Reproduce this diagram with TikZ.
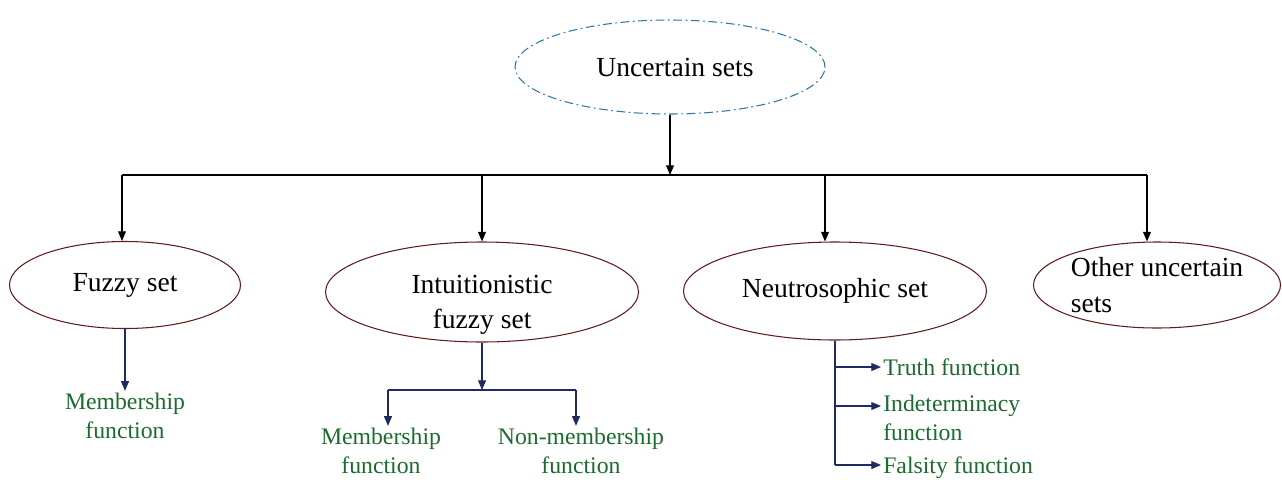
\documentclass[tikz,border=0pt]{standalone}
\usepackage{fontspec}
\setmainfont{Liberation Serif}
\usetikzlibrary{arrows.meta, shapes.geometric, positioning}
\definecolor{SetRed}{HTML}{5E1C1C}
\definecolor{RootBlue}{HTML}{2E78A0}
\definecolor{FnGreen}{HTML}{1B6B2F}
\definecolor{SubNavy}{HTML}{1F2A60}

\begin{document}
\begin{tikzpicture}[on grid, line width=0.6pt,
    set/.style={ellipse, draw=SetRed, inner sep=0pt, align=center, font=\fontsize{15.7}{20}\selectfont},
    root/.style={set, draw=RootBlue, dash pattern=on 5pt off 2pt on 1pt off 2pt},
    fn/.style={text=FnGreen, inner sep=1pt, align=center, font=\fontsize{13.5}{16.5}\selectfont},
    arr/.style={-{Triangle[length=5.5pt,width=4.5pt]}},
    sub/.style={arr, draw=SubNavy}]

    \useasboundingbox (0,0) rectangle (25.64,-9.58);

    \node[root, minimum width=6.2cm, minimum height=1.88cm] (U) at (13.4,-1.34) {\hspace{0.2cm}Uncertain sets};
    \node[set, minimum width=4.62cm, minimum height=1.74cm] (F) at (2.5,-5.7) {Fuzzy set};
    \node[set, minimum width=6.26cm, minimum height=2cm] (I) at (9.64,-5.84)
        {\raisebox{-0.24cm}[\height][\depth]{\begin{tabular}{@{}c@{}}Intuitionistic\\fuzzy set\end{tabular}}};
    \node[set, minimum width=6.06cm, minimum height=1.96cm] (N) at (16.7,-5.82) {Neutrosophic set};
    \node[set, minimum width=4.94cm, minimum height=1.72cm, align=left] (O) at (23.14,-5.7) {Other uncertain\\sets};

    % top level
    \coordinate[below=2.16cm of U] (bar);
    \draw[arr] (U) -- (bar);
    \draw ([xshift=-0.06cm]F.north |- bar) -- ([xshift=-0.2cm]O.north |- bar);
    \foreach \s/\d in {F/-0.06, I/0, N/-0.2, O/-0.2}
        \draw[arr] ([xshift=\d cm]\s.north |- bar) -- ([xshift=\d cm]\s.north);

    % fuzzy set
    \node[fn, below=2.62cm of F] (FM) {Membership\\function};
    \draw[sub] (F) -- (FM);

    % intuitionistic fuzzy set
    \node[fn, below left=3.18cm and 2.02cm of I] (IM) {Membership\\function};
    \node[fn, below right=3.18cm and 1.98cm of I] (INM) {Non-membership\\function};
    \coordinate[below=1.96cm of I] (ib);
    \draw[sub] (I.south) -- (ib);
    \draw[SubNavy] ([xshift=0.14cm]IM.north |- ib) -- ([xshift=-0.1cm]INM.north |- ib);
    \draw[sub] ([xshift=0.14cm]IM.north |- ib) -- ([xshift=0.14cm]IM.north);
    \draw[sub] ([xshift=-0.1cm]INM.north |- ib) -- ([xshift=-0.1cm]INM.north);

    % neutrosophic set
    \coordinate[below=1.52cm of N] (nt);
    \coordinate[below=2.3cm of N] (ni);
    \coordinate[below=3.48cm of N] (nf);
    \node[fn, right=0.92cm of nt, anchor=west] (NT) {Truth function};
    \node[fn, align=left, anchor=west] (NI) at ([xshift=0.92cm, yshift=-0.24cm]ni) {Indeterminacy\\function};
    \node[fn, anchor=west] (NF) at ([xshift=0.92cm, yshift=-0.06cm]nf) {Falsity function};
    \draw[SubNavy] (N.south) -- (nf);
    \draw[sub] (nt) -- (NT);
    \draw[sub] (ni) -- (ni -| NI.west);
    \draw[sub] (nf) -- (nf -| NF.west);

\end{tikzpicture}
\end{document}
